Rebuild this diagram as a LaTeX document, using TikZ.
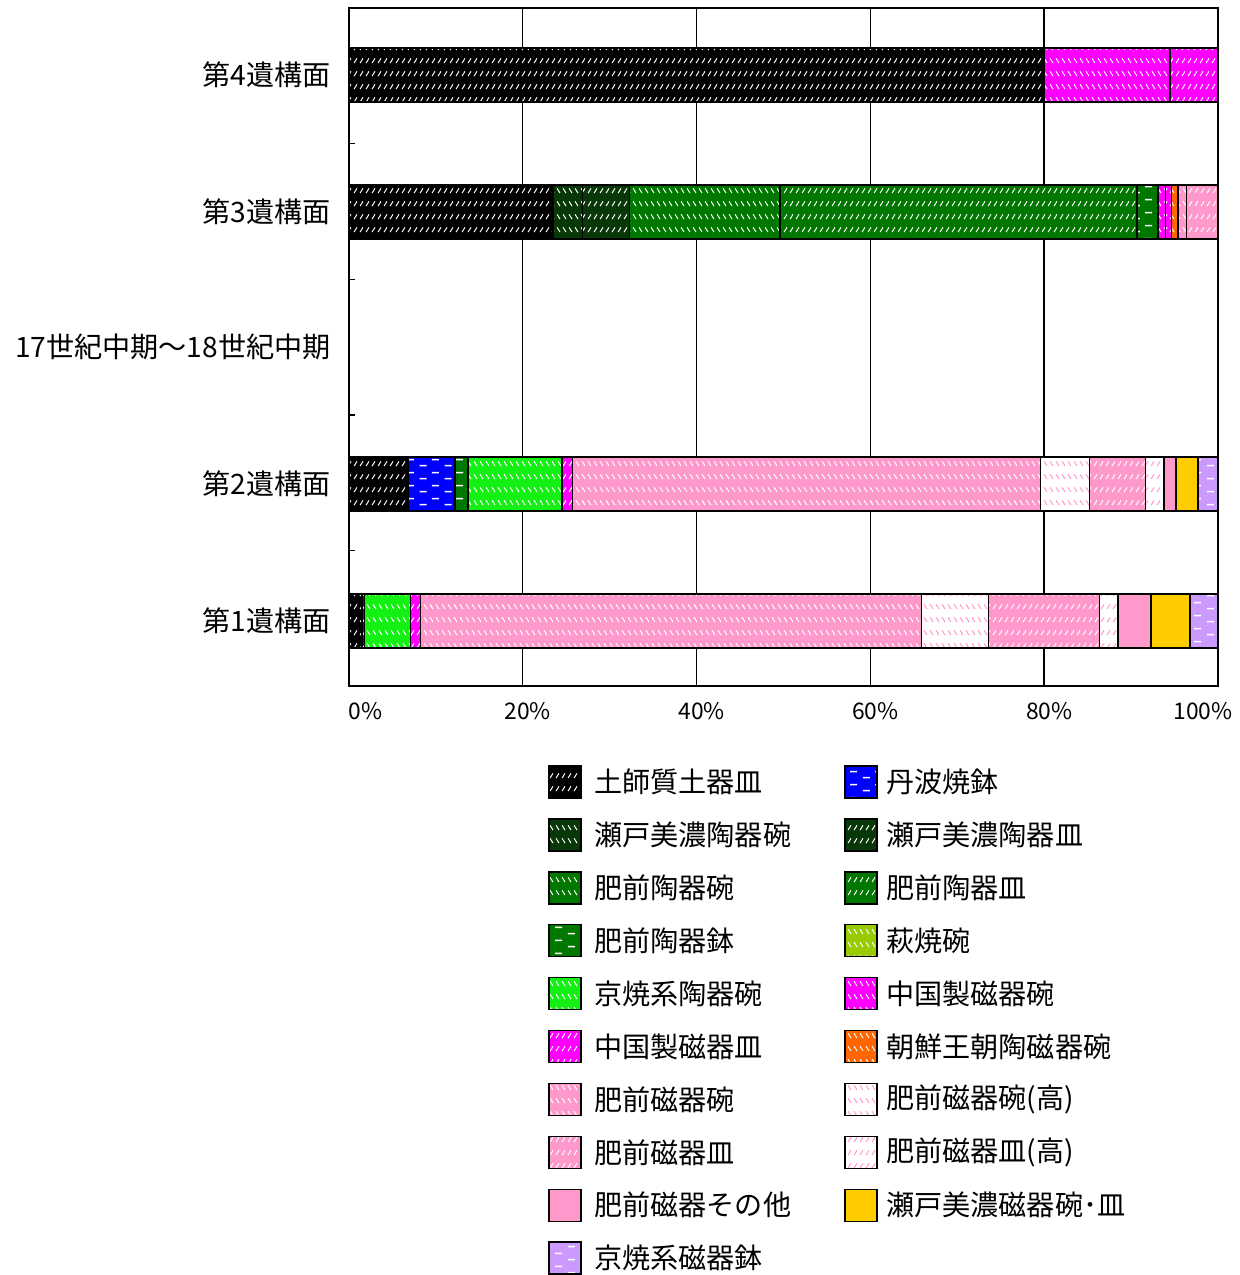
\documentclass[tikz,border=0pt]{standalone}
\usepackage{fontspec}
\setmainfont{Noto Sans CJK JP}
\usetikzlibrary{patterns.meta}

\definecolor{setogreen}{RGB}{8,56,8}
\definecolor{hizengreen}{RGB}{0,120,0}
\definecolor{kyogreen}{RGB}{20,240,20}
\definecolor{hagigreen}{RGB}{153,204,0}
\definecolor{cnmagenta}{RGB}{255,0,255}
\definecolor{chosenorange}{RGB}{255,102,0}
\definecolor{hizenpink}{RGB}{255,153,204}
\definecolor{setogold}{RGB}{255,204,0}
\definecolor{kyolavender}{RGB}{204,153,255}
\definecolor{tanbablue}{RGB}{0,0,255}

% Hatch marks
\tikzdeclarepattern{
	name=fwdmarks,
	type=uncolored,
	bounding box={(0pt,0pt) and (3.6pt,7.4pt)},
	tile size={(3.6pt,7.4pt)},
	code={\draw[line width=0.6pt] (0.7pt,1.8pt) -- (2.5pt,4.6pt);}
}
\tikzdeclarepattern{
	name=bwdmarks,
	type=uncolored,
	bounding box={(0pt,0pt) and (3.6pt,7.4pt)},
	tile size={(3.6pt,7.4pt)},
	code={\draw[line width=0.6pt] (0.7pt,4.6pt) -- (2.5pt,1.8pt);}
}
\tikzdeclarepattern{
	name=dashmarks,
	type=uncolored,
	bounding box={(0pt,0pt) and (14pt,7.4pt)},
	tile size={(14pt,7.4pt)},
	code={\draw[line width=0.9pt] (1pt,2pt) -- (5pt,2pt);
		\draw[line width=0.9pt] (8pt,5.7pt) -- (12pt,5.7pt);}
}

\tikzset{
	ware/.style={draw=black, line width=0.8pt},
	hatch/.style n args={3}{ware, preaction={fill=#1}, pattern={#2}, pattern color=#3},
	hajiki/.style={hatch={black}{fwdmarks}{white}},
	tanba/.style={hatch={tanbablue}{dashmarks}{white}},
	setowan/.style={hatch={setogreen}{bwdmarks}{white}},
	setosara/.style={hatch={setogreen}{fwdmarks}{white}},
	hizenwan/.style={hatch={hizengreen}{bwdmarks}{white}},
	hizensara/.style={hatch={hizengreen}{fwdmarks}{white}},
	hizenhachi/.style={hatch={hizengreen}{dashmarks}{white}},
	hagiwan/.style={hatch={hagigreen}{bwdmarks}{white}},
	kyowan/.style={hatch={kyogreen}{bwdmarks}{white}},
	cnwan/.style={hatch={cnmagenta}{bwdmarks}{white}},
	cnsara/.style={hatch={cnmagenta}{fwdmarks}{white}},
	chosenwan/.style={hatch={chosenorange}{bwdmarks}{white}},
	jiwan/.style={hatch={hizenpink}{bwdmarks}{white}},
	jisara/.style={hatch={hizenpink}{fwdmarks}{white}},
	jiwantaka/.style={hatch={white}{bwdmarks}{hizenpink}},
	jisarataka/.style={hatch={white}{fwdmarks}{hizenpink}},
	jiother/.style={ware, fill=hizenpink},
	setoji/.style={ware, fill=setogold},
	kyohachi/.style={hatch={kyolavender}{dashmarks}{white}},
	gridline/.style={draw=black, line width=0.8pt},
	catlabel/.style={anchor=east, inner sep=0pt, font=\fontsize{16pt}{19pt}\selectfont},
	ticklabel/.style={inner sep=0pt, font=\fontsize{13pt}{15pt}\selectfont},
	legtext/.style={anchor=west, inner sep=0pt, font=\fontsize{16pt}{19pt}\selectfont}
}

\begin{document}
\begin{tikzpicture}[x=0.02cm, y=-0.02cm]

	\useasboundingbox (0,0) rectangle (1240,1275);

	%% CHART (x in percent)
	\begin{scope}[shift={(349,0)}, x=0.1738cm]

		% Grid
		\foreach \p in {20,40,60,80}
		{
			\draw [gridline] (\p,8) -- (\p,686);
		}

		% 4th surface
		\foreach \a/\b/\s in {0/80/hajiki, 80/94.5/cnwan, 94.5/100/cnsara}
		{
			\draw [\s] (\a,48) rectangle (\b,102);
		}

		% 3rd surface
		\foreach \a/\b/\s in {0/23.5/hajiki, 23.5/26.9/setowan, 26.9/32.3/setosara,
			32.3/49.6/hizenwan, 49.6/90.7/hizensara, 90.7/93.1/hizenhachi,
			93.1/94.0/cnwan, 94.0/94.7/cnsara, 94.7/95.4/chosenwan,
			95.4/96.4/jiwan, 96.4/100/jisara}
		{
			\draw [\s] (\a,185) rectangle (\b,239);
		}

		% 2nd surface
		\foreach \a/\b/\s in {0/6.8/hajiki, 6.8/12.2/tanba, 12.2/13.7/hizenhachi,
			13.7/24.5/kyowan, 24.5/25.7/cnsara, 25.7/79.6/jiwan,
			79.6/85.2/jiwantaka, 85.2/91.7/jisara, 91.7/93.8/jisarataka,
			93.8/95.2/jiother, 95.2/97.7/setoji, 97.7/100/kyohachi}
		{
			\draw [\s] (\a,457) rectangle (\b,511);
		}

		% 1st surface
		\foreach \a/\b/\s in {0/1.5/hajiki, 1.5/1.8/setowan, 1.8/7.1/kyowan,
			7.1/8.2/cnsara, 8.2/65.9/jiwan, 65.9/73.6/jiwantaka,
			73.6/86.4/jisara, 86.4/88.5/jisarataka, 88.5/92.3/jiother,
			92.3/96.8/setoji, 96.8/100/kyohachi}
		{
			\draw [\s] (\a,594) rectangle (\b,648);
		}

		% Frame and ticks
		\draw [gridline] (0,8) rectangle (100,686);
		\foreach \y in {143.6, 279.2, 414.8, 550.4}
		{
			\draw [gridline] (0,\y) -- ++(0.7,0);
		}
	\end{scope}

	% Category labels
	\node [catlabel] (face4) at (331,75)  {第4遺構面};
	\node [catlabel] (face3) at (331,212) {第3遺構面};
	\node [catlabel] (period) at (331,347) {17世紀中期～18世紀中期};
	\node [catlabel] (face2) at (331,484) {第2遺構面};
	\node [catlabel] (face1) at (331,621) {第1遺構面};

	% Percent labels
	\node [ticklabel, anchor=west] (p0) at (348,711) {0\%};
	\foreach \p in {20,40,60,80}
	{
		\node [ticklabel] (p\p) at (354+8.69*\p,711) {\p\%};
	}
	\node [ticklabel, anchor=east] (p100) at (1233,711) {100\%};

	%% LEGEND
	% left column
	\foreach \s/\t [count=\i from 0] in {hajiki/土師質土器皿, setowan/瀬戸美濃陶器碗,
		hizenwan/肥前陶器碗, hizenhachi/肥前陶器鉢, kyowan/京焼系陶器碗,
		cnsara/中国製磁器皿, jiwan/肥前磁器碗, jisara/肥前磁器皿,
		jiother/肥前磁器その他, kyohachi/京焼系磁器鉢}
	{
		\draw [\s] (549,766+52.9*\i) rectangle ++(32,32);
		\node [legtext] (legA\i) at (594,782+52.9*\i) {\t};
	}
	% right column
	\foreach \s/\t [count=\i from 0] in {tanba/丹波焼鉢, setosara/瀬戸美濃陶器皿,
		hizensara/肥前陶器皿, hagiwan/萩焼碗, cnwan/中国製磁器碗,
		chosenwan/朝鮮王朝陶磁器碗, jiwantaka/肥前磁器碗(高),
		jisarataka/肥前磁器皿(高), setoji/瀬戸美濃磁器碗･皿}
	{
		\draw [\s] (845,766+52.9*\i) rectangle ++(32,32);
		\node [legtext] (legB\i) at (886,782+52.9*\i) {\t};
	}

\end{tikzpicture}
\end{document}
